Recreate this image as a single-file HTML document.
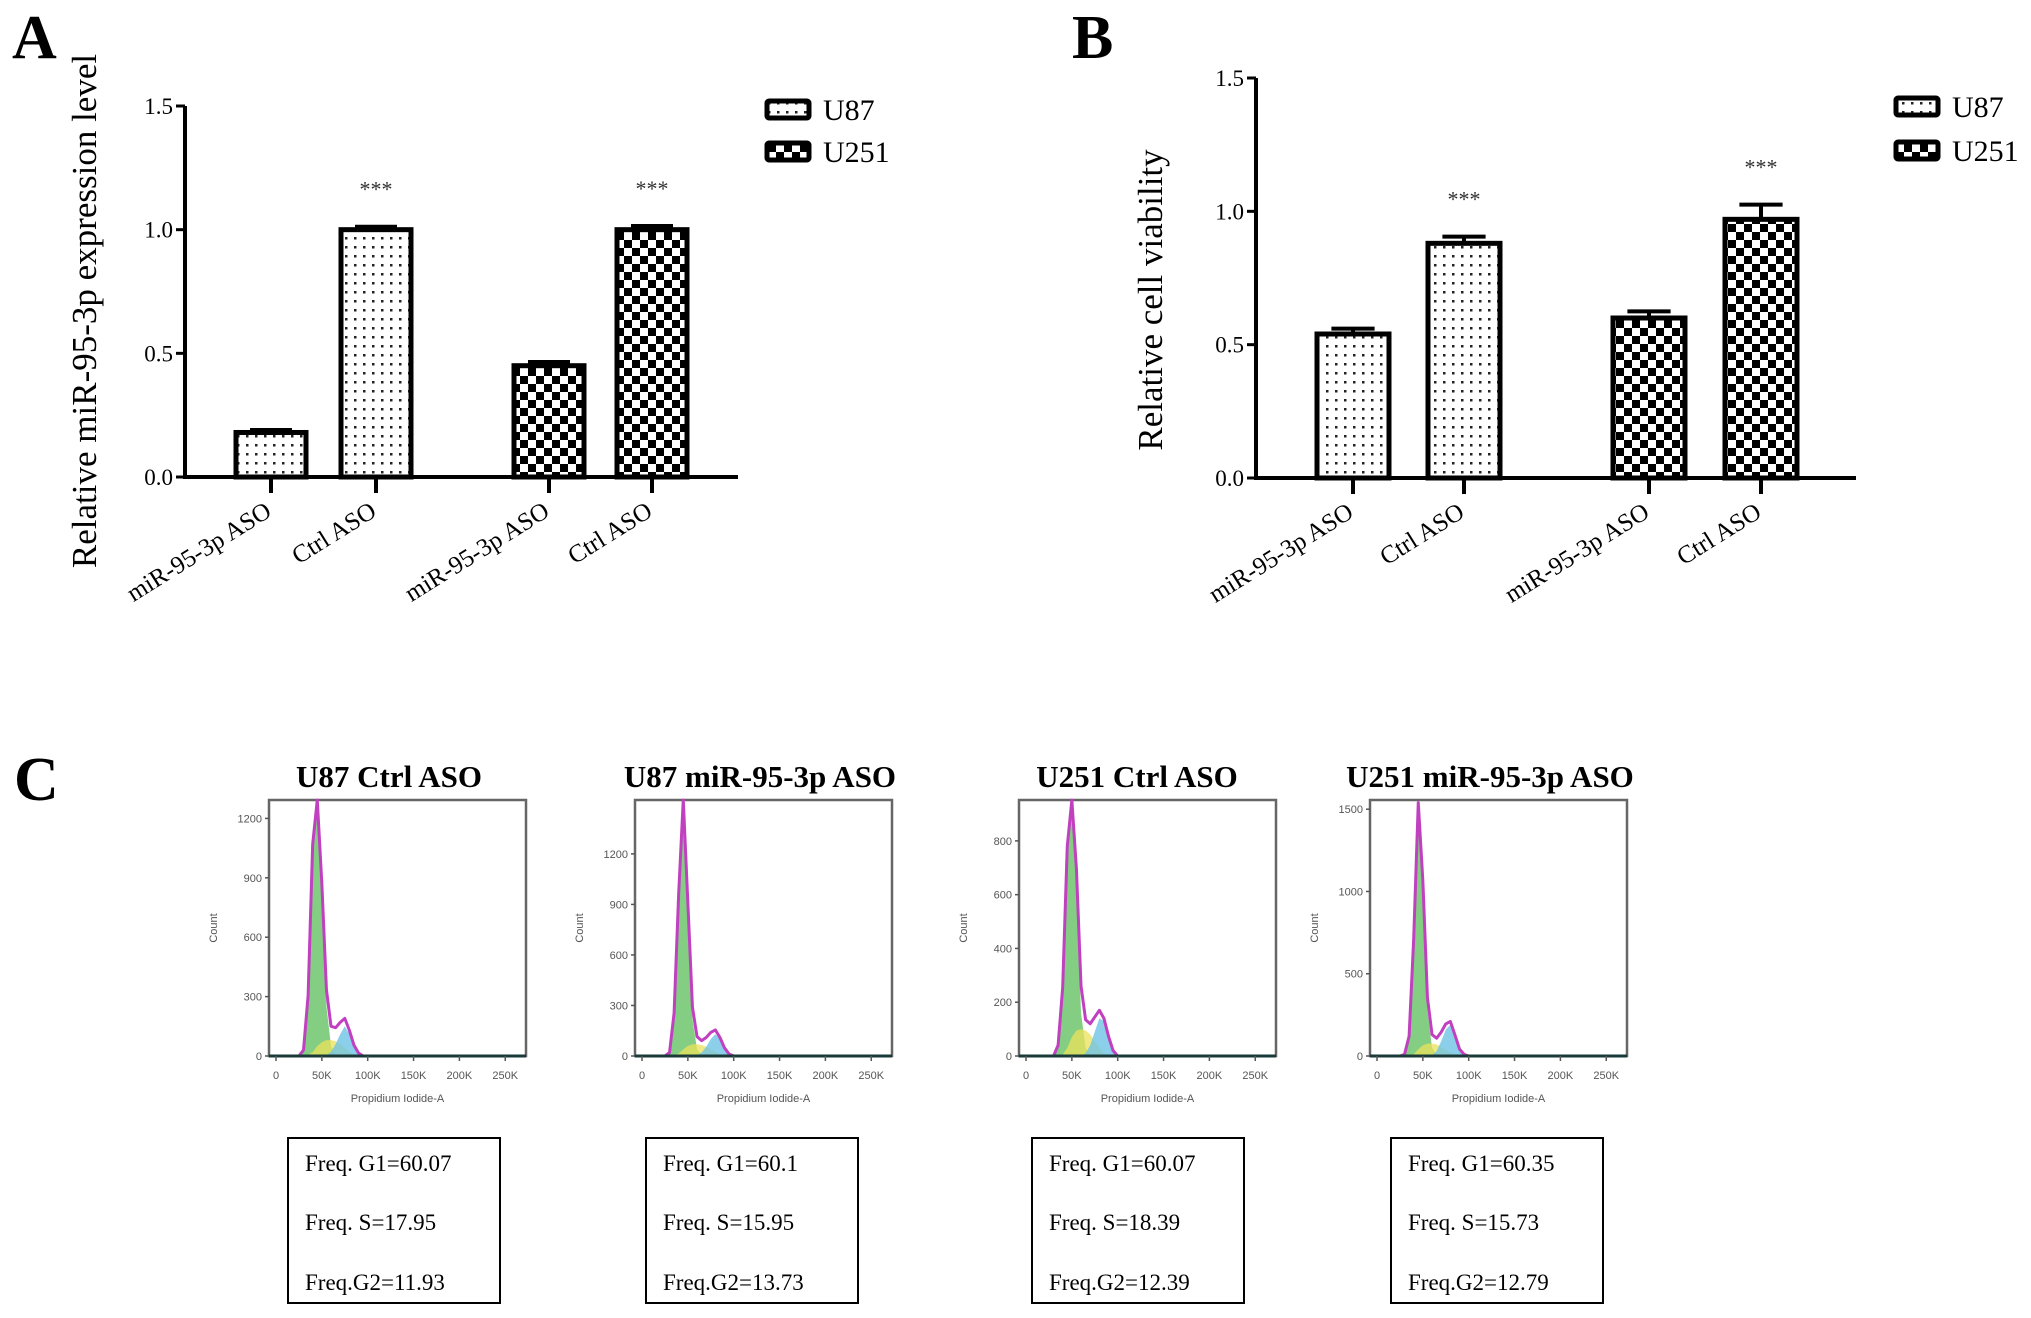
<!DOCTYPE html>
<html><head><meta charset="utf-8"><style>
html,body{margin:0;padding:0;background:#fff;}
svg{display:block;font-family:"Liberation Serif",serif;}
</style></head><body>
<svg id="fig" width="2031" height="1318" viewBox="0 0 2031 1318">
<defs>
<pattern id="dots" width="9" height="9" patternUnits="userSpaceOnUse"><rect width="9" height="9" fill="#fff"/><rect x="3" y="3" width="2.5" height="2.5" fill="#222"/></pattern>
<pattern id="check" width="16" height="16" patternUnits="userSpaceOnUse"><rect width="16" height="16" fill="#fff"/><rect width="8" height="8" fill="#000"/><rect x="8" y="8" width="8" height="8" fill="#000"/></pattern>
</defs>
<text x="12" y="58" font-size="62" font-weight="bold">A</text>
<text x="1072" y="58" font-size="62" font-weight="bold">B</text>
<text x="14" y="800" font-size="62" font-weight="bold">C</text>
<g id="chartA"></g>
<g id="chartB"></g>
<g id="chartC"></g>
</svg>
<script>
const NS="http://www.w3.org/2000/svg";
// Panel A/B data
const barCats=["miR-95-3p ASO","Ctrl ASO","miR-95-3p ASO","Ctrl ASO"];
const barSeries=["U87","U87","U251","U251"];
const aValues=[0.18,1.0,0.45,1.0];
const aErrors=[0.01,0.012,0.015,0.015];
const aStars=["","***","","***"];
const bValues=[0.54,0.88,0.60,0.97];
const bErrors=[0.02,0.025,0.025,0.055];
const bStars=["","***","","***"];
const yTicks=[0,0.5,1.0,1.5];
const yTickLabels=["0.0","0.5","1.0","1.5"];
// Panel C data (bins in K)
const histBins=[20,25,30,35,40,45,50,55,60,65,70,75,80,85,90,95,100,105,110];
const histTitles=["U87 Ctrl ASO","U87 miR-95-3p ASO","U251 Ctrl ASO","U251 miR-95-3p ASO"];
const g1Data=[
 [0,0,30,300,1050,1300,800,250,50,8,0,0,0,0,0,0,0,0,0],
 [0,0,20,250,950,1520,850,220,40,6,0,0,0,0,0,0,0,0,0],
 [0,0,0,40,250,750,950,600,160,30,0,0,0,0,0,0,0,0,0],
 [0,0,10,120,700,1500,1000,280,50,8,0,0,0,0,0,0,0,0,0]];
const sData=[
 [0,0,0,5,20,50,70,80,80,75,60,40,20,5,0,0,0,0,0],
 [0,0,0,5,15,40,60,70,70,65,55,40,25,10,3,0,0,0,0],
 [0,0,0,0,5,30,70,95,100,95,80,55,30,10,3,0,0,0,0],
 [0,0,0,0,10,40,65,75,75,70,55,35,20,8,2,0,0,0,0]];
const g2Data=[
 [0,0,0,0,0,0,0,5,20,60,110,150,110,50,15,0,0,0,0],
 [0,0,0,0,0,0,0,0,5,20,55,100,130,100,45,12,0,0,0],
 [0,0,0,0,0,0,0,0,0,10,40,90,140,130,70,20,0,0,0],
 [0,0,0,0,0,0,0,0,5,30,90,160,190,120,40,10,0,0,0]];
const histYMax=[1293,1520,952,1556];
const histYTicks=[[0,300,600,900,1200],[0,300,600,900,1200],[0,200,400,600,800],[0,500,1000,1500]];
const xTickVals=[0,50,100,150,200,250];
const xTickLabels=["0","50K","100K","150K","200K","250K"];
const freqG1=["60.07","60.1","60.07","60.35"];
const freqS=["17.95","15.95","18.39","15.73"];
const freqG2=["11.93","13.73","12.39","12.79"];

function mk(parent,tag,attrs,text){const e=document.createElementNS(NS,tag);for(const k in attrs)e.setAttribute(k,attrs[k]);if(text!==undefined)e.textContent=text;parent.appendChild(e);return e;}

function barChart(gId,o,values,errors,stars,title){
 const g=document.getElementById(gId);
 const y=v=>o.y0+(o.y15-o.y0)*v/1.5;
 let e=mk(g,"line",{x1:o.ax,y1:y(1.5),x2:o.ax,y2:y(0)+2,stroke:"#000","stroke-width":4});
 
 
 e=mk(g,"line",{x1:o.ax,y1:y(0),x2:o.axEnd,y2:y(0),stroke:"#000","stroke-width":4});
 
 
 yTicks.forEach((t,i)=>{
  mk(g,"line",{x1:o.ax-9,y1:y(t),x2:o.ax,y2:y(t),stroke:"#000","stroke-width":3});
  const tl=mk(g,"text",{x:o.ax-12,y:y(t)+8,"font-size":23,"text-anchor":"end"},yTickLabels[i]);
  
  
 });
 values.forEach((v,i)=>{
  const x0=o.bx[i], w=o.bw;
  const r=mk(g,"rect",{x:x0,y:y(v),width:w,height:y(0)-y(v),fill:barSeries[i]==="U87"?"url(#dots)":"url(#check)",stroke:"#000","stroke-width":5});
  
  
  const cx=x0+w/2;
  mk(g,"line",{x1:cx,y1:y(v),x2:cx,y2:y(v+errors[i]),stroke:"#000","stroke-width":4});
  mk(g,"line",{x1:cx-w*0.3,y1:y(v+errors[i]),x2:cx+w*0.3,y2:y(v+errors[i]),stroke:"#000","stroke-width":4});
  mk(g,"line",{x1:cx,y1:y(0),x2:cx,y2:y(0)+16,stroke:"#000","stroke-width":4});
  if(stars[i]){const s=mk(g,"text",{x:cx,y:y(v+errors[i])-30,"font-size":22,"text-anchor":"middle",fill:"#333"},stars[i]);
   
   }
  const lx=cx+2, ly=y(0)+38;
  const lab=mk(g,"text",{x:lx,y:ly,"font-size":25,"text-anchor":"end",transform:`rotate(-32 ${lx} ${ly})`},barCats[i]);
  
  
 });
 const tt=mk(g,"text",{x:0,y:0,"font-size":o.tf,"text-anchor":"middle",transform:`translate(${o.tx},${o.ty}) rotate(-90)`},title);
 
 
 [["U87","url(#dots)",o.ly1],["U251","url(#check)",o.ly2]].forEach(L=>{
  const lg=mk(g,"g",{});
  
  
  mk(lg,"rect",{x:o.lx,y:L[2],width:42,height:17,fill:L[1],stroke:"#000","stroke-width":5,rx:2});
  mk(lg,"text",{x:o.lx+56,y:L[2]+19,"font-size":30},L[0]);
 });
}
barChart("chartA",{ax:185,axEnd:738,y0:477,y15:106,bx:[236,341,514,617],bw:70,tx:96,ty:311,tf:35,lx:767,ly1:101,ly2:143},aValues,aErrors,aStars,"Relative miR-95-3p expression level");
barChart("chartB",{ax:1256,axEnd:1856,y0:478,y15:78,bx:[1317,1428,1613,1725],bw:72,tx:1162,ty:300,tf:35,lx:1896,ly1:98,ly2:142},bValues,bErrors,bStars,"Relative cell viability");

// Panel C
const C=document.getElementById("chartC");
const plotX=[269,635,1019,1370], plotW=257, plotY=800, plotH=256;
const boxX=[288,646,1032,1391];
const titleX=[389,760,1137,1490];
for(let p=0;p<4;p++){
 const g=mk(C,"g",{});
 
 
 const X0=plotX[p];
 const xs=v=>X0+7+(v/265)*(plotW-14);
 const ys=v=>plotY+plotH-(Math.min(v,histYMax[p])/histYMax[p])*plotH;
 const t=mk(g,"text",{x:titleX[p],y:787,"font-size":31,"font-weight":"bold","text-anchor":"middle"},histTitles[p]);
 
 
 mk(g,"rect",{x:X0,y:plotY,width:plotW,height:plotH,fill:"#fff",stroke:"#666","stroke-width":2.5});
 const comps=[[g1Data[p],"rgba(90,190,90,0.75)","g1-fill"],[sData[p],"rgba(235,225,90,0.75)","s-fill"],[g2Data[p],"rgba(110,195,230,0.8)","g2-fill"]];
 comps.forEach(cm=>{
  let d=`M${xs(histBins[0])},${ys(0)}`;
  histBins.forEach((b,i)=>{d+=` L${xs(b)},${ys(cm[0][i])}`;});
  d+=` L${xs(histBins[histBins.length-1])},${ys(0)}Z`;
  const pa=mk(g,"path",{d:d,fill:cm[1],stroke:"none"});
  
  
 });
 let d="";
 histBins.forEach((b,i)=>{const tot=g1Data[p][i]+sData[p][i]+g2Data[p][i];d+=(i?" L":"M")+xs(b)+","+ys(tot);});
 const tl=mk(g,"path",{d:`M${xs(0)},${ys(0)} L`+d.slice(1)+` L${xs(262)},${ys(0)}`,fill:"none",stroke:"#c040c0","stroke-width":3,"stroke-linejoin":"round"});
 
 
 mk(g,"line",{x1:X0,y1:ys(0),x2:X0+plotW,y2:ys(0),stroke:"#1a3a3a","stroke-width":3});
 histYTicks[p].forEach(v=>{
  mk(g,"line",{x1:X0-4,y1:ys(v),x2:X0,y2:ys(v),stroke:"#555","stroke-width":1.5});
  mk(g,"text",{x:X0-7,y:ys(v)+4,"font-size":11,"text-anchor":"end",fill:"#555","font-family":"Liberation Sans, sans-serif"},String(v));
 });
 xTickVals.forEach((v,i)=>{
  mk(g,"line",{x1:xs(v),y1:plotY+plotH,x2:xs(v),y2:plotY+plotH+5,stroke:"#555","stroke-width":1.5});
  mk(g,"text",{x:xs(v),y:plotY+plotH+23,"font-size":11,"text-anchor":"middle",fill:"#555","font-family":"Liberation Sans, sans-serif"},xTickLabels[i]);
 });
 mk(g,"text",{x:X0+plotW/2,y:plotY+plotH+46,"font-size":11,"text-anchor":"middle",fill:"#555","font-family":"Liberation Sans, sans-serif"},"Propidium Iodide-A");
 mk(g,"text",{x:0,y:0,"font-size":11,"text-anchor":"middle",fill:"#555","font-family":"Liberation Sans, sans-serif",transform:`translate(${X0-52},${plotY+plotH/2}) rotate(-90)`},"Count");
 const bx=mk(C,"g",{});
 
 
 mk(bx,"rect",{x:boxX[p],y:1138,width:212,height:165,fill:"#fff",stroke:"#000","stroke-width":2});
 mk(bx,"text",{x:boxX[p]+17,y:1171,"font-size":23},"Freq. G1="+freqG1[p]);
 mk(bx,"text",{x:boxX[p]+17,y:1230,"font-size":23},"Freq. S="+freqS[p]);
 mk(bx,"text",{x:boxX[p]+17,y:1290,"font-size":23},"Freq.G2="+freqG2[p]);
}
</script>
</body></html>
